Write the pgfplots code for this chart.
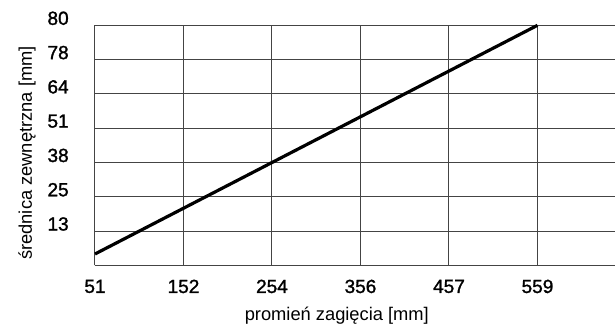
\documentclass[border=0pt]{standalone}
\usepackage{fontspec}
\setmainfont{Liberation Sans}
\newfontfamily\tickfont[FakeBold=1.4]{Liberation Sans}
\usepackage{pgfplots}
\pgfplotsset{compat=1.18}
\definecolor{gridc}{HTML}{444444}
\begin{document}
\begin{tikzpicture}[x=1pt,y=1pt]
\useasboundingbox (-95,-60.7) rectangle (520,265.3);
\begin{axis}[
  scale only axis,
  width=520pt, height=240pt,
  at={(0,0)}, anchor=south west,
  xmin=0, xmax=5.876, ymin=0, ymax=7,
  axis lines=left,
  axis line style={gridc, line width=1pt, -},
  xtick={0,1,2,3,4,5},
  xticklabels={51,152,254,356,457,559},
  ytick={1,2,3,4,5,6,7},
  yticklabels={13,25,38,51,64,78,80},
  grid=major,
  major grid style={gridc, line width=1pt},
  tick style={draw=none},
  ticklabel style={font=\tickfont\fontsize{19}{19}\selectfont},
  /pgf/number format/assume math mode=true,
  yticklabel style={anchor=east, inner sep=0pt, xshift=-24pt, yshift=7pt},
  xticklabel style={anchor=center, inner sep=0pt, yshift=-19pt},
  xlabel={promień zagięcia [mm]},
  ylabel={średnica zewnętrzna [mm]},
  label style={font=\fontsize{18.3}{18.3}\selectfont},
  xlabel style={at={(axis description cs:0.465,0)}, anchor=base, inner sep=0pt, yshift=-54.7pt},
  ylabel style={at={(axis description cs:0,0.468)}, anchor=center, inner sep=0pt, yshift=68pt},
  clip=false,
]
\addplot[black, line width=3.2pt] coordinates {(0,0.33) (5,7)};
\end{axis}
\end{tikzpicture}
\end{document}
